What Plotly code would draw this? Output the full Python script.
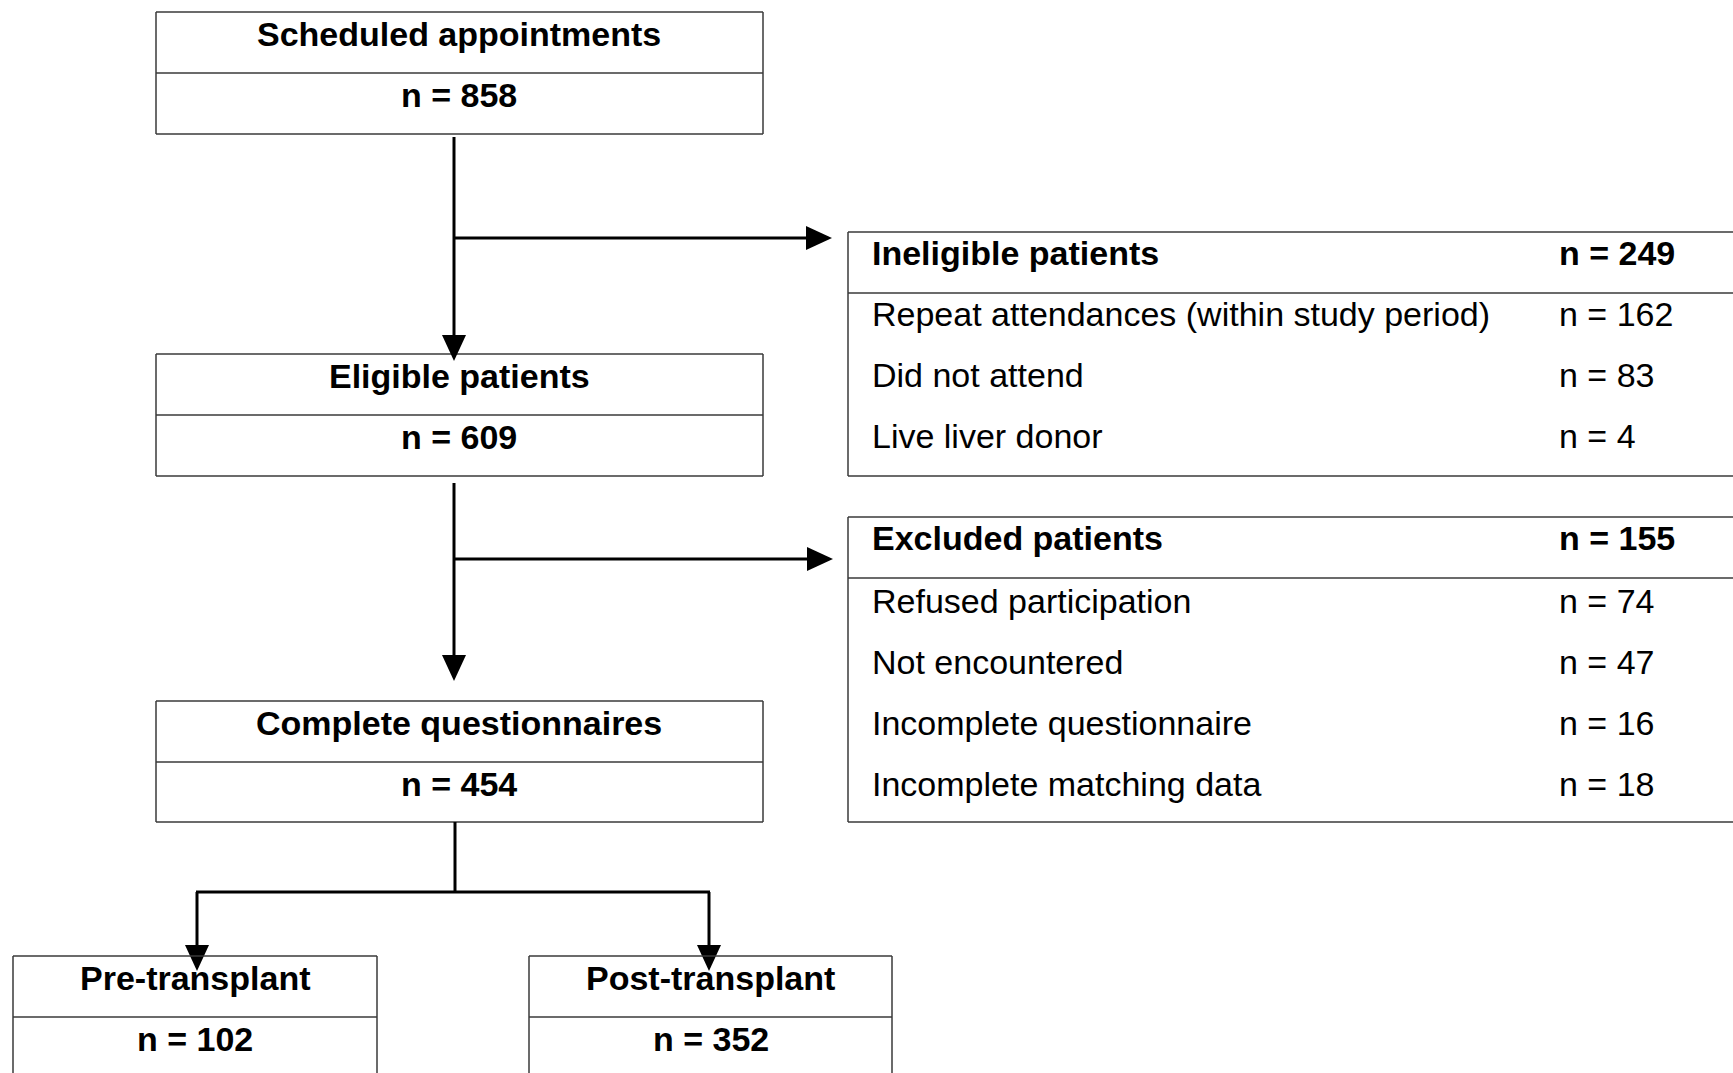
import plotly.graph_objects as go

# ---- data ----
main_titles = ["Scheduled appointments", "Eligible patients", "Complete questionnaires"]
main_counts = [858, 609, 454]
split_titles = ["Pre-transplant", "Post-transplant"]
split_counts = [102, 352]
inelig_title = "Ineligible patients"
inelig_total = 249
inelig_reasons = ["Repeat attendances (within study period)", "Did not attend", "Live liver donor"]
inelig_counts = [162, 83, 4]
excl_title = "Excluded patients"
excl_total = 155
excl_reasons = ["Refused participation", "Not encountered", "Incomplete questionnaire", "Incomplete matching data"]
excl_counts = [74, 47, 16, 18]

# ---- layout geometry (pixels) ----
W, H = 1733, 1073
FONT = "Liberation Sans, Arial, sans-serif"
FS = 34
BORDER = dict(color="#3a3a3a", width=1.5)
ARROW = dict(color="black", width=3)

shapes = []
annotations = []

def box(x0, x1, y0, ymid, y1, open_right=False, open_bottom=False):
    shapes.append(dict(type="line", x0=x0, x1=x1, y0=y0, y1=y0, line=BORDER))
    shapes.append(dict(type="line", x0=x0, x1=x1, y0=ymid, y1=ymid, line=BORDER))
    shapes.append(dict(type="line", x0=x0, x1=x0, y0=y0, y1=y1, line=BORDER))
    if not open_bottom:
        shapes.append(dict(type="line", x0=x0, x1=x1, y0=y1, y1=y1, line=BORDER))
    if not open_right:
        shapes.append(dict(type="line", x0=x1, x1=x1, y0=y0, y1=y1, line=BORDER))

def text(x, y, s, bold=False, anchor="center"):
    annotations.append(dict(x=x, y=y, text=("<b>%s</b>" % s) if bold else s,
                            showarrow=False, xanchor=anchor, yanchor="middle",
                            font=dict(family=FONT, size=FS, color="black")))

def line(x0, y0, x1, y1):
    shapes.append(dict(type="line", x0=x0, x1=x1, y0=y0, y1=y1, line=ARROW))

def head_down(x, ytip, w=12, l=26):
    shapes.append(dict(type="path", path=f"M {x-w} {ytip-l} L {x+w} {ytip-l} L {x} {ytip} Z",
                       fillcolor="black", line=dict(width=0)))

def head_right(xtip, y, w=12, l=26):
    shapes.append(dict(type="path", path=f"M {xtip-l} {y-w} L {xtip-l} {y+w} L {xtip} {y} Z",
                       fillcolor="black", line=dict(width=0)))

# main column boxes
MX0, MX1 = 156, 763
CX = 454
main_y = [(12, 73, 134), (354, 415, 476), (701, 762, 822)]
for (y0, ym, y1), t, n in zip(main_y, main_titles, main_counts):
    box(MX0, MX1, y0, ym, y1)
    text(CX + 5, y0 + 22, t, bold=True)
    text(CX + 5, ym + 22, "n = %d" % n, bold=True)

# arrows down main column
line(CX, 137, CX, 340)
head_down(CX, 361)
line(CX, 238, 810, 238)
head_right(832, 238)

line(CX, 483, CX, 660)
head_down(CX, 681)
line(CX, 559, 810, 559)
head_right(833, 559)

# side boxes
SX0, SX1 = 848, 1740
LX, NX = 870, 1557
# ineligible
box(SX0, SX1, 232, 293, 476, open_right=True)
text(LX, 253, inelig_title, bold=True, anchor="left")
text(NX, 253, "n = %d" % inelig_total, bold=True, anchor="left")
rows_y1 = [314, 375, 436]
for y, r, n in zip(rows_y1, inelig_reasons, inelig_counts):
    text(LX, y, r, anchor="left")
    text(NX, y, "n = %d" % n, anchor="left")
# excluded
box(SX0, SX1, 517, 578, 822, open_right=True)
text(LX, 538, excl_title, bold=True, anchor="left")
text(NX, 538, "n = %d" % excl_total, bold=True, anchor="left")
rows_y2 = [601, 662, 723, 784]
for y, r, n in zip(rows_y2, excl_reasons, excl_counts):
    text(LX, y, r, anchor="left")
    text(NX, y, "n = %d" % n, anchor="left")

# split
line(455, 822, 455, 892)
line(196, 892, 710, 892)
split_x = [(13, 377), (529, 892)]
split_cx = [197, 709]
for cx in split_cx:
    line(cx, 892, cx, 950)
    head_down(cx, 971)
for (x0, x1), cx, t, n in zip(split_x, split_cx, split_titles, split_counts):
    box(x0, x1, 956, 1017, 1085, open_bottom=True)
    text((x0 + x1) / 2, 978, t, bold=True)
    text((x0 + x1) / 2, 1039, "n = %d" % n, bold=True)

fig = go.Figure()
fig.update_layout(
    width=W, height=H, margin=dict(l=0, r=0, t=0, b=0),
    paper_bgcolor="white", plot_bgcolor="white",
    xaxis=dict(range=[0, W], visible=False, fixedrange=True),
    yaxis=dict(range=[H, 0], visible=False, fixedrange=True),
    shapes=shapes, annotations=annotations, showlegend=False,
)
fig.write_html("out.html", config={"displayModeBar": False},
               post_script="document.body.style.margin='0';")
